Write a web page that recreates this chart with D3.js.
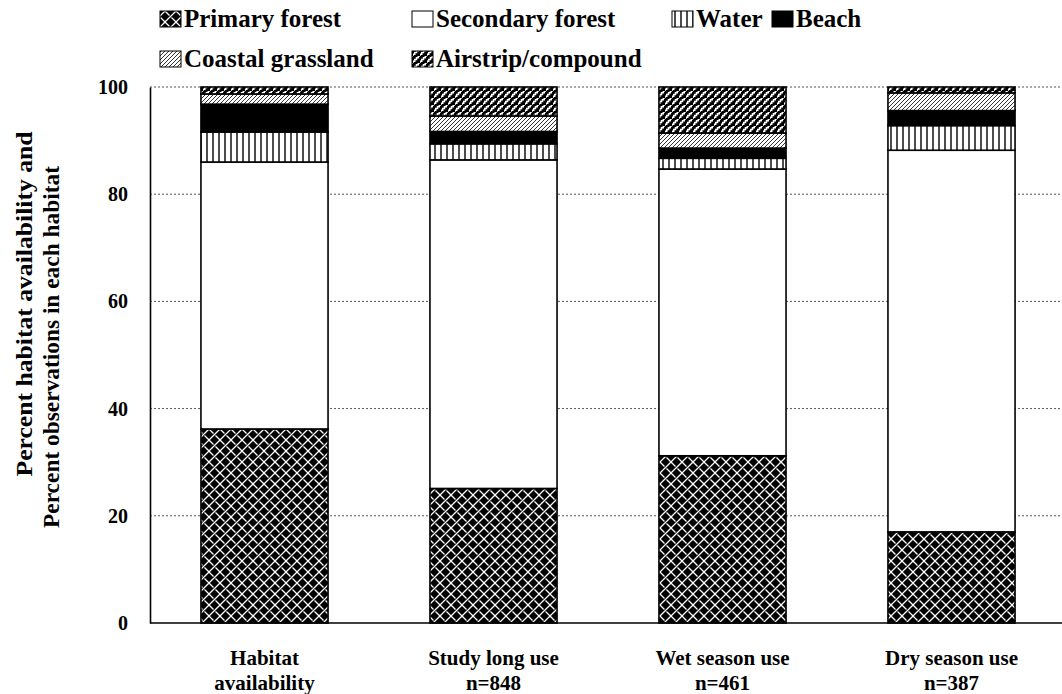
<!DOCTYPE html>
<html>
<head>
<meta charset="utf-8">
<script src="https://cdn.jsdelivr.net/npm/d3@7"></script>
<style>
  html, body { margin: 0; padding: 0; background: #fff; }
  svg text { font-family: "Liberation Serif", "Times New Roman", serif; font-weight: bold; fill: #000; }
</style>
</head>
<body>
<svg id="chart" width="1062" height="694"></svg>
<script>
// Groups along the x axis (two-line labels)
const categories = ["Habitat availability", "Study long use", "Wet season use", "Dry season use"];
const labelLine1 = ["Habitat", "Study long use", "Wet season use", "Dry season use"];
const labelLine2 = ["availability", "n=848", "n=461", "n=387"];

// Habitat classes, bottom to top of each stack
const habitats = ["Primary forest", "Secondary forest", "Water", "Beach", "Coastal grassland", "Airstrip/compound"];

// Percent in each habitat, one value per group
const primaryForest   = [36.2, 25.1, 31.2, 17.0];
const secondaryForest = [49.8, 61.3, 53.5, 71.2];
const water           = [5.6, 3.0, 2.0, 4.6];
const beach           = [5.2, 2.3, 1.9, 2.8];
const coastalGrass    = [1.9, 2.9, 2.8, 3.3];
const airstrip        = [1.3, 5.4, 8.6, 1.1];

const yTicks = [0, 20, 40, 60, 80, 100];

const seriesValues = [primaryForest, secondaryForest, water, beach, coastalGrass, airstrip];
const rows = categories.map((c, i) => {
  const r = { category: c };
  habitats.forEach((h, k) => { r[h] = seriesValues[k][i]; });
  return r;
});

const svg = d3.select("#chart");
const defs = svg.append("defs");

// Fill patterns
function pat(id, w, h, draw) {
  const p = defs.append("pattern").attr("id", id)
    .attr("patternUnits", "userSpaceOnUse").attr("width", w).attr("height", h);
  draw(p);
}
pat("p-primary", 11, 11, p => {
  p.append("rect").attr("width", 11).attr("height", 11).attr("fill", "#000");
  p.append("path").attr("d", "M0,0 L4.5,4.5 M6.5,6.5 L11,11 M11,0 L0,11")
    .attr("stroke", "#fff").attr("stroke-width", 1.3).attr("fill", "none");
});
pat("p-secondary", 10, 10, p => {
  p.append("rect").attr("width", 10).attr("height", 10).attr("fill", "#fff");
});
pat("p-water", 6, 6, p => {
  p.append("rect").attr("width", 6).attr("height", 6).attr("fill", "#fff");
  p.append("line").attr("x1", 3).attr("x2", 3).attr("y1", 0).attr("y2", 6)
    .attr("stroke", "#000").attr("stroke-width", 1.4);
});
pat("p-beach", 10, 10, p => {
  p.append("rect").attr("width", 10).attr("height", 10).attr("fill", "#000");
});
pat("p-coastal", 4, 4, p => {
  p.append("rect").attr("width", 4).attr("height", 4).attr("fill", "#fff");
  p.append("path").attr("d", "M-1,5 L5,-1 M-1,1 L1,-1 M3,5 L5,3")
    .attr("stroke", "#000").attr("stroke-width", 0.8).attr("fill", "none");
});
pat("p-airstrip", 7, 7, p => {
  p.append("rect").attr("width", 7).attr("height", 7).attr("fill", "#000");
  p.append("path").attr("d", "M-1.75,7 L0,7 L0,5.25 L1.75,5.25 L1.75,3.5 L3.5,3.5 L3.5,1.75 L5.25,1.75 L5.25,0 L7,0 L7,-1.75")
    .attr("stroke", "#fff").attr("stroke-width", 1.5).attr("fill", "none");
});
const fills = ["url(#p-primary)", "url(#p-secondary)", "url(#p-water)", "url(#p-beach)", "url(#p-coastal)", "url(#p-airstrip)"];
const color = d3.scaleOrdinal().domain(habitats).range(fills);

// Scales
const x = d3.scaleBand().domain(categories).range([150, 1066]).paddingInner(0.445).paddingOuter(0.2225);
const y = d3.scaleLinear().domain([0, 100]).range([623, 87]);

// Dotted gridlines
svg.append("g").selectAll("line").data(yTicks.filter(t => t > 0)).join("line")
  .attr("x1", 150).attr("x2", 1062)
  .attr("y1", d => y(d)).attr("y2", d => y(d))
  .attr("stroke", "#555").attr("stroke-width", 1).attr("stroke-dasharray", "2,2");

// Stacked bars
const stacked = d3.stack().keys(habitats)(rows);
svg.append("g").selectAll("g").data(stacked).join("g")
  .attr("fill", d => color(d.key))
  .selectAll("rect").data(d => d).join("rect")
  .attr("x", d => x(d.data.category))
  .attr("width", x.bandwidth())
  .attr("y", d => y(d[1]))
  .attr("height", d => y(d[0]) - y(d[1]))
  .attr("stroke", "#000").attr("stroke-width", 1.6);

// Axes
const yAxis = svg.append("g").attr("transform", "translate(150,0)")
  .call(d3.axisLeft(y).tickValues(yTicks).tickSize(0).tickPadding(22).tickFormat(d3.format("d")));
yAxis.select(".domain").attr("stroke", "#000").attr("stroke-width", 1.6);
yAxis.selectAll("text").style("font-size", "20px");

svg.append("line").attr("x1", 150).attr("x2", 1062).attr("y1", y(0)).attr("y2", y(0))
  .attr("stroke", "#000").attr("stroke-width", 1.6);

// Category labels
const xl = svg.append("g");
categories.forEach((c, i) => {
  const cx = x(c) + x.bandwidth() / 2;
  xl.append("text").attr("x", cx).attr("y", 665).attr("text-anchor", "middle")
    .style("font-size", "21px").text(labelLine1[i]);
  xl.append("text").attr("x", cx).attr("y", 690).attr("text-anchor", "middle")
    .style("font-size", "21px").text(labelLine2[i]);
});

// Y axis title, two lines
const yt1 = svg.append("g").attr("transform", "translate(0,304) rotate(-90)");
yt1.append("text").attr("x", 0).attr("y", 32).attr("text-anchor", "middle")
  .attr("textLength", 345).attr("lengthAdjust", "spacingAndGlyphs")
  .style("font-size", "23px").text("Percent habitat availability and");
const yt2 = svg.append("g").attr("transform", "translate(0,347) rotate(-90)");
yt2.append("text").attr("x", 0).attr("y", 59).attr("text-anchor", "middle")
  .attr("textLength", 362).attr("lengthAdjust", "spacingAndGlyphs")
  .style("font-size", "23px").text("Percent observations in each habitat");

// Legend
const legendPos = [[160, 27], [412, 27], [672, 27], [772, 27], [160, 67], [412, 67]];
const lg = svg.append("g");
habitats.forEach((h, k) => {
  const [lx, ly] = legendPos[k];
  lg.append("rect").attr("x", lx).attr("y", ly - 16).attr("width", 21).attr("height", 16)
    .attr("fill", color(h)).attr("stroke", "#000").attr("stroke-width", 1);
  lg.append("text").attr("x", lx + 24).attr("y", ly).style("font-size", "25px").text(h);
});
</script>
</body>
</html>
